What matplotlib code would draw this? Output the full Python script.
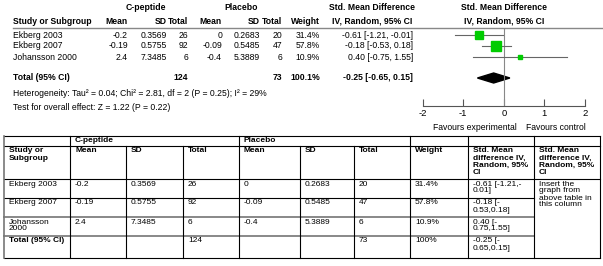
import numpy as np
import matplotlib
matplotlib.use("Agg")
import matplotlib.pyplot as plt
from matplotlib.patches import Polygon

plt.rcParams['font.family'] = ['Liberation Sans', 'DejaVu Sans']

# ---Data---
studies = ['Ekberg 2003', 'Ekberg 2007', 'Johansson 2000']
cp_mean = [-0.2, -0.19, 2.4]
cp_sd = [0.3569, 0.5755, 7.3485]
cp_n = [26, 92, 6]
pl_mean = [0, -0.09, -0.4]
pl_sd = [0.2683, 0.5485, 5.3889]
pl_n = [20, 47, 6]
weights = [31.4, 57.8, 10.9]
smd = [-0.61, -0.18, 0.40]
ci_lo = [-1.21, -0.53, -0.75]
ci_hi = [-0.01, 0.18, 1.55]
tot_cp_n = 124
tot_pl_n = 73
tot_smd = -0.25
tot_lo = -0.65
tot_hi = 0.15
xticks = [-2, -1, 0, 1, 2]
heterogeneity = 'Heterogeneity: Tau² = 0.04; Chi² = 2.81, df = 2 (P = 0.25); I² = 29%'
overall = 'Test for overall effect: Z = 1.22 (P = 0.22)'


def g(v):
    return f'{v:g}'


def ci(m, lo, hi):
    return f'{m:.2f} [{lo:.2f}, {hi:.2f}]'


W, H = 603, 266
fig = plt.figure(figsize=(W / 100, H / 100), dpi=100)
ax = fig.add_axes([0, 0, 1, 1])
ax.set_xlim(0, W)
ax.set_ylim(H, 0)
ax.axis('off')

FS = 6.2

# --- top forest table ---
row_y = [35, 46, 57]
tot_y = 78
ax.text(146, 7, 'C-peptide', ha='center', va='center', fontsize=FS, fontweight='bold')
ax.text(241, 7, 'Placebo', ha='center', va='center', fontsize=FS, fontweight='bold')
ax.text(372, 7, 'Std. Mean Difference', ha='center', va='center', fontsize=FS, fontweight='bold')
ax.text(504, 7, 'Std. Mean Difference', ha='center', va='center', fontsize=FS, fontweight='bold')
hy = 21
ax.text(13, hy, 'Study or Subgroup', ha='left', va='center', fontsize=FS, fontweight='bold')
cols_r = [128, 167, 188, 222, 260, 282, 320, 413]
for x, lab in zip(cols_r[:7], ['Mean', 'SD', 'Total', 'Mean', 'SD', 'Total', 'Weight']):
    ax.text(x, hy, lab, ha='right', va='center', fontsize=FS, fontweight='bold')
ax.text(372, hy, 'IV, Random, 95% CI', ha='center', va='center', fontsize=FS, fontweight='bold')
ax.text(504, hy, 'IV, Random, 95% CI', ha='center', va='center', fontsize=FS, fontweight='bold')
ax.plot([13, W], [28, 28], color='#888888', lw=1.0)

for i, y in enumerate(row_y):
    ax.text(13, y, studies[i], ha='left', va='center', fontsize=FS)
    vals = [g(cp_mean[i]), g(cp_sd[i]), str(cp_n[i]), g(pl_mean[i]), g(pl_sd[i]),
            str(pl_n[i]), f'{weights[i]:.1f}%', ci(smd[i], ci_lo[i], ci_hi[i])]
    for x, v in zip(cols_r, vals):
        ax.text(x, y, v, ha='right', va='center', fontsize=FS)

ax.text(13, tot_y, 'Total (95% CI)', ha='left', va='center', fontsize=FS, fontweight='bold')
ax.text(cols_r[2], tot_y, str(tot_cp_n), ha='right', va='center', fontsize=FS, fontweight='bold')
ax.text(cols_r[5], tot_y, str(tot_pl_n), ha='right', va='center', fontsize=FS, fontweight='bold')
ax.text(cols_r[6], tot_y, f'{sum(weights):.1f}%', ha='right', va='center', fontsize=FS, fontweight='bold')
ax.text(cols_r[7], tot_y, ci(tot_smd, tot_lo, tot_hi), ha='right', va='center', fontsize=FS, fontweight='bold')
ax.text(13, 93, heterogeneity, ha='left', va='center', fontsize=FS)
ax.text(13, 107, overall, ha='left', va='center', fontsize=FS)

# --- forest plot axes (x in SMD units, y in pixel rows) ---
x0, x1 = 422.6, 585.0
axis_y = 106
fax = fig.add_axes([x0 / W, (H - axis_y) / H, (x1 - x0) / W, (axis_y - 28) / H])
fax.set_xlim(-2, 2)
fax.set_ylim(axis_y, 28)
fax.patch.set_alpha(0)
for s in ['top', 'left', 'right']:
    fax.spines[s].set_visible(False)
fax.spines['bottom'].set_color('#555555')
fax.spines['bottom'].set_linewidth(0.8)
fax.set_yticks([])
fax.set_xticks(xticks)
fax.set_xticklabels([g(t) for t in xticks])
fax.tick_params(axis='x', direction='in', length=5, width=0.8, color='#555555',
                labelsize=6.8, pad=2)
fax.axvline(0, color='#888888', lw=0.8)
for i, y in enumerate(row_y):
    fax.plot([ci_lo[i], ci_hi[i]], [y, y], color='#666666', lw=0.8, clip_on=False)
    side = 1.25 * np.sqrt(weights[i])
    fax.plot(smd[i], y, marker='s', ms=side * 0.72, color='#00CC00', mec='#00CC00', lw=0)
fax.add_patch(Polygon([[tot_lo, tot_y], [tot_smd, tot_y - 5], [tot_hi, tot_y], [tot_smd, tot_y + 5]],
                      closed=True, color='black', clip_on=False))
ax.text(517, 127, 'Favours experimental', ha='right', va='center', fontsize=FS)
ax.text(526, 127, 'Favours control', ha='left', va='center', fontsize=FS)

# --- lower table ---
cx = [4, 70, 126, 183, 239, 300, 354, 410, 468, 534, 600]
ry = [136, 146, 179, 198, 217, 236, 258]
TS = 6.0
lc = 'black'

# horizontal lines
ax.plot([cx[0], cx[-1]], [ry[0], ry[0]], color=lc, lw=0.8)
ax.plot([cx[0], cx[-1]], [ry[1], ry[1]], color=lc, lw=0.8)
ax.plot([cx[0], cx[-1]], [ry[2], ry[2]], color=lc, lw=0.8)
for k in (3, 4, 5):
    col = '#888888' if k in (4, 5) else lc
    lw = 1.4 if k in (4, 5) else 0.8
    ax.plot([cx[0], cx[9]], [ry[k], ry[k]], color=col, lw=lw)
ax.plot([cx[0], cx[-1]], [ry[6], ry[6]], color=lc, lw=0.8)

# vertical lines
for k, x in enumerate(cx):
    if k in (2, 3, 5, 6):
        y_top = ry[1]
    else:
        y_top = ry[0]
    col = '#777777' if k == 0 else lc
    ax.plot([x, x], [y_top, ry[6]], color=col, lw=1.2 if k == 0 else 0.8)


def cell(k, r, s, bold=False):
    ax.text(cx[k] + 5, ry[r] + 1.5, s, ha='left', va='top', fontsize=TS,
            fontweight='bold' if bold else 'normal', linespacing=1.0)


cell(1, 0, 'C-peptide', True)
cell(4, 0, 'Placebo', True)
hdr = ['Study or\nSubgroup', 'Mean', 'SD', 'Total', 'Mean', 'SD', 'Total', 'Weight',
       'Std. Mean\ndifference IV,\nRandom, 95%\nCI', 'Std. Mean\ndifference IV,\nRandom, 95%\nCI']
for k, s in enumerate(hdr):
    cell(k, 1, s, True)

for i in range(3):
    name = studies[i].replace('Johansson ', 'Johansson\n')
    vals = [name, g(cp_mean[i]), g(cp_sd[i]), str(cp_n[i]), g(pl_mean[i]), g(pl_sd[i]),
            str(pl_n[i]), f'{weights[i]:.1f}%']
    for k, v in enumerate(vals):
        cell(k, 2 + i, v)
    lo = f'{ci_lo[i]:.2f}'
    txt = f'{smd[i]:.2f} [{lo},-\n{-ci_hi[i]:.2f}]' if ci_hi[i] < 0 else \
        f'{smd[i]:.2f} [-\n{-ci_lo[i]:.2f},{ci_hi[i]:.2f}]'
    cell(8, 2 + i, txt)

cell(0, 5, 'Total (95% CI)', True)
cell(3, 5, str(tot_cp_n))
cell(6, 5, str(tot_pl_n))
cell(7, 5, f'{round(sum(weights)):d}%')
cell(8, 5, f'{tot_smd:.2f} [-\n{-tot_lo:.2f},{tot_hi:.2f}]')
cell(9, 2, 'Insert the\ngraph from\nabove table in\nthis column')

fig.savefig('out.png', dpi=100)
